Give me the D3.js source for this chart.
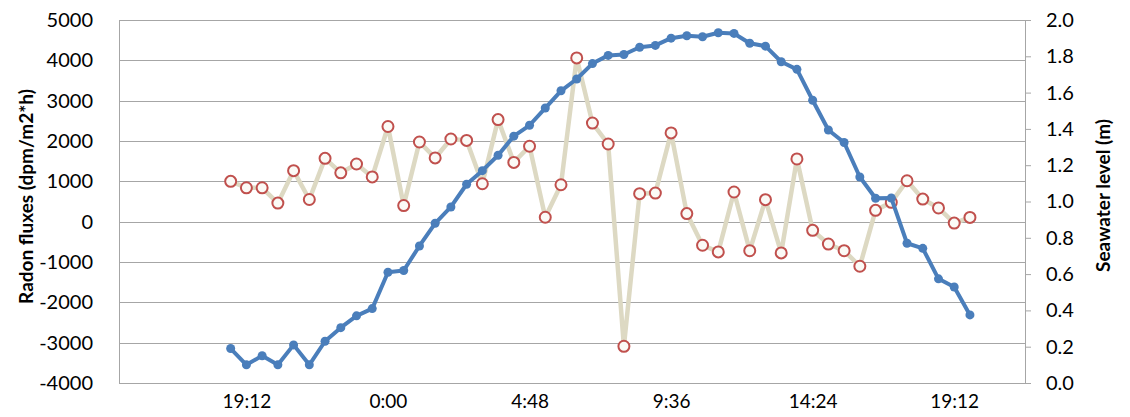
<html>
<head>
<meta charset="utf-8">
<script src='https://d3js.org/d3.v7.min.js'></script>
<style>
  body { margin: 0; background: #fff; }
  svg text { font-family: Lato, sans-serif; }
</style>
</head>
<body>
<svg width=1130 height=417 id="chart1"></svg>
<script>
  // sample times (32 min steps, evening of day 1 to evening of day 2)
  var times = ["18:40","19:12","19:44","20:16","20:48","21:20","21:52","22:24","22:56","23:28",
               "0:00","0:32","1:04","1:36","2:08","2:40","3:12","3:44","4:16","4:48",
               "5:20","5:52","6:24","6:56","7:28","8:00","8:32","9:04","9:36","10:08",
               "10:40","11:12","11:44","12:16","12:48","13:20","13:52","14:24","14:56","15:28",
               "16:00","16:32","17:04","17:36","18:08","18:40","19:12","19:44"];

  // radon fluxes (dpm/m2*h), left axis
  var radon = [1000, 840, 840, 460, 1265, 550, 1570, 1210, 1430, 1110,
               2360, 400, 1975, 1580, 2050, 2015, 940, 2530, 1470, 1870,
               110, 915, 4060, 2445, 1925, -3090, 695, 710, 2200, 200,
               -585, -750, 735, -720, 545, -775, 1555, -215, -555, -720,
               -1105, 280, 480, 1015, 560, 340, -35, 105];

  // seawater level (m), right axis
  var level = [0.19, 0.10, 0.15, 0.10, 0.21, 0.10, 0.23, 0.305, 0.37, 0.41,
               0.61, 0.62, 0.755, 0.88, 0.97, 1.095, 1.17, 1.255, 1.36, 1.42,
               1.515, 1.61, 1.675, 1.76, 1.805, 1.81, 1.85, 1.86, 1.90, 1.913,
               1.908, 1.93, 1.926, 1.872, 1.856, 1.77, 1.728, 1.558, 1.394, 1.325,
               1.135, 1.018, 1.019, 0.77, 0.742, 0.574, 0.529, 0.375];

  var xTickLabels = ["19:12","0:00","4:48","9:36","14:24","19:12"];
  var yLeftTicks = [-4000,-3000,-2000,-1000,0,1000,2000,3000,4000,5000];
  var yRightTicks = [0,0.2,0.4,0.6,0.8,1.0,1.2,1.4,1.6,1.8,2.0];

  // turn "HH:MM" strings into fractional days, rolling over at midnight
  function toDays(list) {
    var day = 0, prev = -1;
    return list.map(function(t) {
      var p = t.split(":"), h = +p[0] + p[1] / 60;
      if (h < prev) day++;
      prev = h;
      return day + h / 24;
    });
  }
  var tDays = toDays(times);
  var tickDays = toDays(xTickLabels);

  var margin = {top: 20, right: 105, bottom: 34, left: 119};
  var width = 1130 - margin.left - margin.right,
      height = 417 - margin.top - margin.bottom;

  var x = d3.scaleLinear().domain([0.62, 1.9]).range([0, width]);
  var yL = d3.scaleLinear().domain([-4000, 5000]).range([height, 0]);
  var yR = d3.scaleLinear().domain([0, 2]).range([height, 0]);

  var svg = d3.select("#chart1");
  var g = svg.append("g").attr("transform", "translate(" + margin.left + "," + margin.top + ")");

  // horizontal gridlines
  g.append("g")
    .selectAll("line").data(yLeftTicks).enter()
    .append("line")
      .attr("x1", 0).attr("x2", width)
      .attr("y1", function(d) { return Math.round(yL(d)) + 0.5; })
      .attr("y2", function(d) { return Math.round(yL(d)) + 0.5; })
      .attr("stroke", "#a6a6a6")
      .attr("stroke-width", 1);

  // left axis
  g.append("g")
    .call(d3.axisLeft(yL).tickValues(yLeftTicks).tickSize(0).tickPadding(26)
      .tickFormat(function(d) { return String(d); }))
    .call(function(a) {
      a.select(".domain").attr("stroke", "#a6a6a6");
      a.selectAll("text").style("font-size", "20px").attr("fill", "#000");
    });

  // right axis
  g.append("g")
    .attr("transform", "translate(" + width + ",0)")
    .call(d3.axisRight(yR).tickValues(yRightTicks).tickSize(6).tickPadding(15)
      .tickFormat(d3.format(".1f")))
    .call(function(a) {
      a.select(".domain").attr("stroke", "#a6a6a6");
      a.selectAll("line").attr("stroke", "#a6a6a6");
      a.selectAll("text").style("font-size", "20px").attr("fill", "#000");
    });

  // bottom axis
  g.append("g")
    .attr("transform", "translate(0," + height + ")")
    .call(d3.axisBottom(x).tickValues(tickDays).tickSize(0).tickPadding(12)
      .tickFormat(function(d, i) { return xTickLabels[i]; }))
    .call(function(a) {
      a.select(".domain").attr("stroke", "#a6a6a6");
      a.selectAll("text").style("font-size", "19px").attr("fill", "#000");
    });

  // radon line with hollow red markers
  var radonPts = tDays.map(function(t, i) { return [t, radon[i]]; });
  g.append("path")
    .datum(radonPts)
    .attr("fill", "none")
    .attr("stroke", "#ddd9c3")
    .attr("stroke-width", 4.5)
    .attr("stroke-linejoin", "round")
    .attr("d", d3.line()
      .x(function(d) { return x(d[0]); })
      .y(function(d) { return yL(d[1]); }));
  g.append("g")
    .selectAll("circle").data(radonPts).enter()
    .append("circle")
      .attr("cx", function(d) { return x(d[0]); })
      .attr("cy", function(d) { return yL(d[1]); })
      .attr("r", 5.5)
      .attr("fill", "#fbfaf6")
      .attr("stroke", "#c0504d")
      .attr("stroke-width", 2);

  // seawater level line with filled blue markers
  var levelPts = tDays.map(function(t, i) { return [t, level[i]]; });
  g.append("path")
    .datum(levelPts)
    .attr("fill", "none")
    .attr("stroke", "#4a7ebb")
    .attr("stroke-width", 4)
    .attr("stroke-linejoin", "round")
    .attr("d", d3.line()
      .x(function(d) { return x(d[0]); })
      .y(function(d) { return yR(d[1]); }));
  g.append("g")
    .selectAll("circle").data(levelPts).enter()
    .append("circle")
      .attr("cx", function(d) { return x(d[0]); })
      .attr("cy", function(d) { return yR(d[1]); })
      .attr("r", 4.5)
      .attr("fill", "#4a7ebb");

  // axis titles
  svg.append("text")
    .attr("transform", "translate(33," + (margin.top + height / 2 - 5) + ") rotate(-90)")
    .style("text-anchor", "middle")
    .style("font-size", "19px")
    .style("font-weight", "bold")
    .text("Radon fluxes (dpm/m2*h)");

  svg.append("text")
    .attr("transform", "translate(1110," + (margin.top + height / 2 - 6) + ") rotate(-90)")
    .style("text-anchor", "middle")
    .style("font-size", "19px")
    .style("font-weight", "bold")
    .text("Seawater level (m)");
</script>
</body>
</html>
